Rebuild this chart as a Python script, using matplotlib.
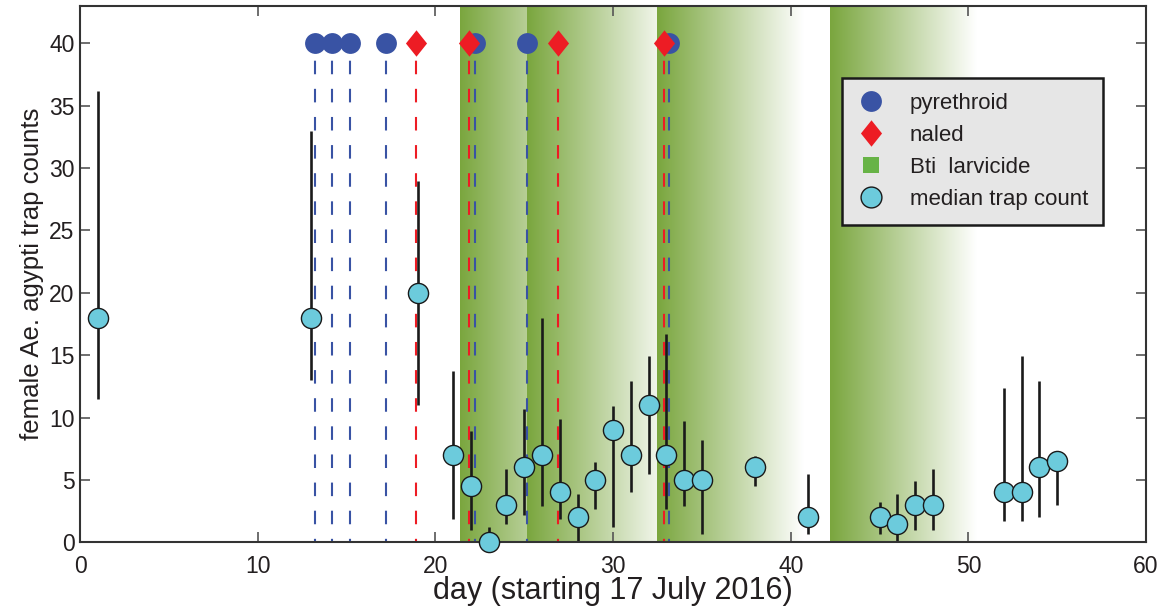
import numpy as np
import matplotlib
matplotlib.use("agg")
import matplotlib.pyplot as plt
from matplotlib.lines import Line2D

plt.rcParams['font.family'] = ['Liberation Sans', 'DejaVu Sans']

# treatment days
pyrethroid_days = [13.2, 14.2, 15.2, 17.2, 22.2, 25.15, 33.15]
naled_days = [18.9, 21.9, 26.9, 32.85]
bti_days = [21.4, 25.15, 32.45, 42.2]
bti_fade = 8.25
spray_level = 40

# median trap counts with ranges
days = [1, 13, 19, 21, 22, 23, 24, 25, 26, 27, 28, 29, 30, 31, 32, 33, 34, 35,
        38, 41, 45, 46, 47, 48, 52, 53, 54, 55]
median = [18, 18, 20, 7, 4.5, 0, 3, 6, 7, 4, 2, 5, 9, 7, 11, 7, 5, 5,
          6, 2, 2, 1.5, 3, 3, 4, 4, 6, 6.5]
low = [11.5, 13, 11, 1.9, 1.0, 0, 1.5, 2.2, 2.9, 1.9, 0, 2.7, 1.2, 4.0, 5.5, 2.7, 2.9, 0.7,
       4.5, 0.7, 0.7, 0, 1.0, 1.0, 1.7, 1.7, 2.0, 3.0]
high = [36.2, 33, 29, 13.7, 8.9, 1.2, 5.9, 10.7, 18, 9.9, 3.9, 6.4, 10.9, 12.9, 14.9, 16.7, 9.7, 8.2,
        6.9, 5.5, 3.2, 3.9, 4.9, 5.9, 12.4, 14.9, 12.9, 6.5]

blue = '#3953a4'
red = '#ed1c24'
cyan = '#6ccbdc'
green = np.array([122, 166, 62]) / 255.0

fig = plt.figure(figsize=(11.65, 6.09), dpi=100)
ax = fig.add_axes([0.0688, 0.1095, 0.9149, 0.8807])

ymax = 43
# Bti bands: green fading to white
for i, start in enumerate(bti_days):
    end = start + bti_fade
    if i + 1 < len(bti_days):
        end = min(end, bti_days[i + 1])
    xs = np.linspace(start, end, 300)
    t = np.clip((xs - start) / bti_fade, 0, 1)[:, None]
    rgb = green[None, :] * (1 - t) + t
    img = rgb[None, :, :]
    ax.imshow(img, extent=[start, end, 0, ymax], aspect='auto',
              interpolation='bilinear', zorder=0)

# spray lines
for d in pyrethroid_days:
    ax.plot([d, d], [spray_level, 0], color=blue, lw=1.5,
            linestyle=(5, (6.5, 7)), zorder=1)
for d in naled_days:
    ax.plot([d, d], [spray_level, 0], color=red, lw=1.5,
            linestyle=(5, (6.5, 7)), zorder=1)

# error bars
ax.vlines(days, low, high, color='#1a1a1a', lw=1.9, zorder=2)
ax.plot(days, median, 'o', color=cyan, mec='#1a1a1a', mew=1.0, ms=14.5,
        zorder=3, clip_on=False)

diamond = [(0, 1), (0.8, 0), (0, -1), (-0.8, 0), (0, 1)]
ax.plot(pyrethroid_days, [spray_level] * len(pyrethroid_days), 'o',
        color=blue, ms=15, mew=0, zorder=4)
ax.plot(naled_days, [spray_level] * len(naled_days), linestyle='none',
        marker=diamond, color=red, ms=19, mew=0, zorder=5)

ax.set_xlim(0, 60)
ax.set_ylim(0, ymax)
ax.set_xticks(range(0, 61, 10))
ax.set_yticks(range(0, 41, 5))
ax.tick_params(direction='in', length=7, width=1.2, color='#555555',
               top=True, right=True, labelsize=16.5, labelcolor='#231f20')
ax.tick_params(axis='x', pad=9)
ax.tick_params(axis='y', pad=4)
for s in ax.spines.values():
    s.set_linewidth(1.5)
    s.set_color('#333333')

ax.set_xlabel('day (starting 17 July 2016)', fontsize=22, color='#231f20', labelpad=-1)
ax.set_ylabel('female Ae. agypti trap counts', fontsize=18.5, color='#231f20', labelpad=4)

handles = [
    Line2D([], [], linestyle='none', marker='o', color=blue, ms=15, mew=0),
    Line2D([], [], linestyle='none', marker=diamond, color=red, ms=19, mew=0),
    Line2D([], [], linestyle='none', marker='s', color='#67b346', ms=12, mew=0),
    Line2D([], [], linestyle='none', marker='o', color=cyan, mec='#1a1a1a', mew=1.0, ms=15),
]
labels = ['pyrethroid', 'naled', 'Bti  larvicide', 'median trap count']
leg = ax.legend(handles, labels, loc='upper left', bbox_to_anchor=(0.7145, 0.866),
                fontsize=16, frameon=True, fancybox=False, framealpha=1,
                facecolor='#e6e6e6', edgecolor='#1a1a1a', labelspacing=0.5,
                handletextpad=1.1, borderpad=0.66, handlelength=1.3, borderaxespad=0)
leg.get_frame().set_linewidth(1.8)
for t in leg.get_texts():
    t.set_color('#231f20')

fig.savefig('out.png', dpi=100)
